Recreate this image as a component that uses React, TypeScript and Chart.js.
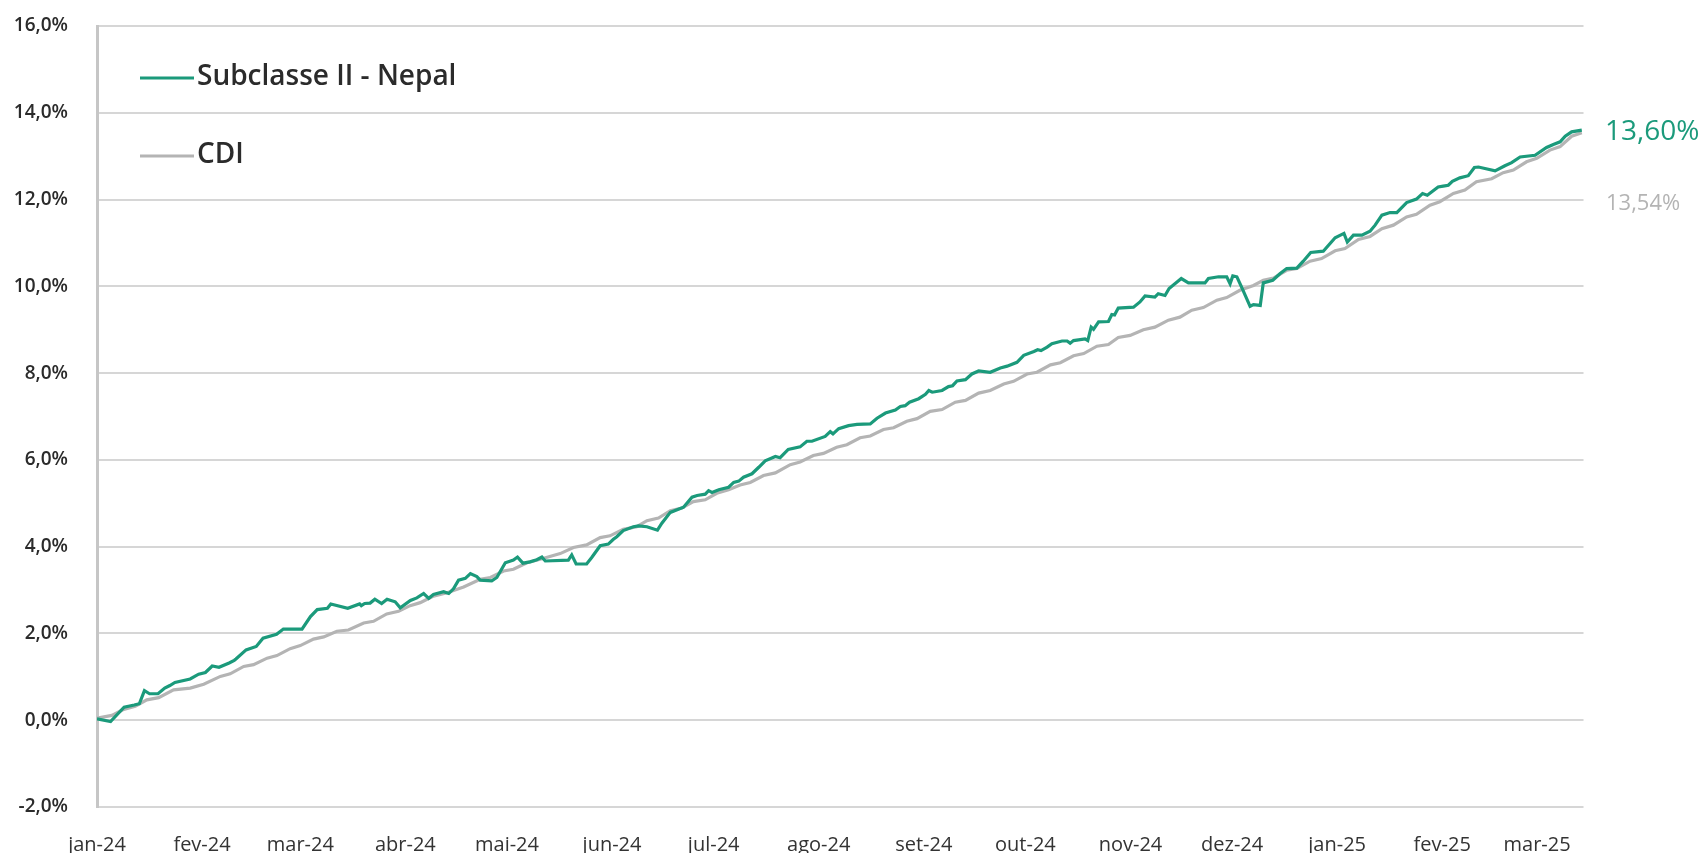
import React, { useEffect, useRef } from "react";
import { Chart, registerables } from "chart.js";

Chart.register(...registerables);

// Days since 2024-01-01 at which the month tick labels sit
const monthDays = [0, 31, 60, 91, 121, 152, 182, 213, 244, 274, 305, 335, 366, 397, 425];
const monthLabels = [
  "jan-24", "fev-24", "mar-24", "abr-24", "mai-24", "jun-24", "jul-24",
  "ago-24", "set-24", "out-24", "nov-24", "dez-24", "jan-25", "fev-25", "mar-25",
];

const seriesNames = ["Subclasse II - Nepal", "CDI"];
const endLabels = ["13,60%", "13,54%"];

// Subclasse II - Nepal (accumulated %, day offsets since 2024-01-01)
const nepalDays = [
  0, 4, 8, 11, 12.5, 14, 15.5, 18, 20, 21.5, 23, 27.5, 30, 32, 34, 36, 39, 40.5, 41, 44,
  47, 49, 53, 55, 60.5, 63, 65, 68, 69, 74, 77.5, 78, 79, 80.6, 82, 84, 85.6, 88, 89.5, 92.5,
  94.4, 96.4, 97.9, 99.3, 102.3, 103.8, 105.2, 106.7, 108.7, 110.2, 112.1, 113.1, 116.5, 118, 120.5, 122.9, 124.1, 125.7, 127.8, 129.8,
  131.3, 132.3, 139.1, 140.1, 141.4, 144.5, 146, 148.5, 150.9, 152.4, 153.4, 155.3, 158.3, 159.8, 162.3, 165.4, 166.7, 169.2, 173.1, 175.6,
  177.1, 179.5, 180.5, 181.5, 183.5, 186.4, 187.9, 189.4, 190.8, 193.3, 195.3, 197.2, 200.2, 201.6, 204, 207.5, 209.5, 211, 214.9, 216.4,
  217.2, 218.9, 221.8, 224.3, 228.2, 230.2, 232.7, 235.6, 237.1, 238.5, 239.8, 242.5, 244.5, 245.5, 246.5, 249.4, 251.3, 252.5, 253.8, 256.3,
  258.2, 260.2, 263.6, 266.6, 268.6, 271.5, 273.5, 276.5, 277.6, 278.6, 280.4, 281.8, 284.8, 286.3, 287.2, 288.2, 291.6, 292.4, 293.4, 294.1,
  295.6, 298.5, 299.5, 300.3, 301.4, 305.9, 307.8, 309.3, 312.2, 313.2, 315.2, 316.4, 320, 322.1, 327, 328, 331, 333.4, 334.4, 335.2,
  336.4, 337.8, 340.3, 341.3, 343.3, 344.2, 347, 349.1, 351.1, 354.1, 356, 358.2, 361.9, 365.4, 368, 369, 370.8, 373.3, 375.7, 377.2,
  379.2, 381.6, 383.6, 386.5, 389.4, 391.2, 392.6, 395.8, 397.3, 398.8, 400, 402.2, 404.7, 406.5, 407.7, 412.6, 415.5, 417.5, 420, 424.4,
  427.8, 429.8, 431.8, 433.3, 435.2, 438.2,
];
const nepalValues = [
  0.03, -0.03, 0.30, 0.35, 0.38, 0.68, 0.61, 0.61, 0.74, 0.80, 0.87, 0.95, 1.06, 1.10, 1.25, 1.22, 1.32, 1.38, 1.41, 1.62,
  1.70, 1.89, 1.98, 2.10, 2.10, 2.39, 2.55, 2.58, 2.68, 2.58, 2.68, 2.64, 2.69, 2.70, 2.79, 2.69, 2.79, 2.73, 2.59, 2.76,
  2.82, 2.92, 2.81, 2.90, 2.96, 2.92, 3.03, 3.23, 3.27, 3.38, 3.31, 3.23, 3.21, 3.29, 3.63, 3.69, 3.76, 3.62, 3.65, 3.70,
  3.76, 3.67, 3.69, 3.81, 3.60, 3.60, 3.75, 4.02, 4.06, 4.17, 4.23, 4.37, 4.46, 4.48, 4.46, 4.38, 4.54, 4.79, 4.91, 5.14,
  5.18, 5.21, 5.29, 5.25, 5.31, 5.37, 5.48, 5.51, 5.60, 5.68, 5.83, 5.98, 6.08, 6.05, 6.24, 6.30, 6.43, 6.43, 6.54, 6.65,
  6.60, 6.72, 6.79, 6.82, 6.83, 6.96, 7.08, 7.15, 7.23, 7.25, 7.33, 7.41, 7.51, 7.60, 7.56, 7.60, 7.69, 7.71, 7.82, 7.85,
  7.98, 8.05, 8.02, 8.12, 8.16, 8.25, 8.41, 8.50, 8.54, 8.52, 8.60, 8.68, 8.74, 8.74, 8.69, 8.75, 8.79, 8.75, 9.06, 9.01,
  9.18, 9.19, 9.35, 9.34, 9.50, 9.52, 9.64, 9.78, 9.75, 9.83, 9.79, 9.95, 10.18, 10.08, 10.08, 10.18, 10.22, 10.22, 10.06, 10.24,
  10.22, 9.98, 9.54, 9.58, 9.56, 10.08, 10.14, 10.29, 10.41, 10.42, 10.58, 10.78, 10.81, 11.12, 11.22, 11.02, 11.18, 11.18, 11.27, 11.41,
  11.64, 11.70, 11.70, 11.93, 12.01, 12.14, 12.10, 12.29, 12.31, 12.33, 12.42, 12.50, 12.55, 12.74, 12.75, 12.66, 12.78, 12.85, 12.98, 13.02,
  13.20, 13.27, 13.33, 13.46, 13.56, 13.60,
];

// CDI (accumulated %, day offsets since 2024-01-01)
const cdiDays = [
  0, 4.4, 7.9, 11.3, 14.7, 18.2, 22.6, 27.5, 31.5, 36.4, 39.3, 43.3, 46.2, 50.2, 53.1, 57, 60, 63.9, 66.9, 70.8,
  74.2, 78.7, 81.6, 85.5, 89, 92.4, 95.4, 99.3, 103.3, 108.2, 113.1, 116.1, 120, 122.9, 126.9, 130.8, 136.7, 140.6, 144.5, 148.5,
  151.4, 155.3, 159.3, 162.3, 165.7, 169.2, 172.6, 176, 179.5, 182.9, 186.4, 189.8, 192.8, 196.7, 200.2, 204.6, 207.5, 211.4, 214.4, 218.3,
  221.3, 225.2, 228.2, 232.1, 235.1, 239, 242, 245.9, 249.4, 253.3, 256.3, 260.2, 263.6, 267.6, 270.5, 274.5, 277.4, 281.4, 284.3, 288.2,
  291.2, 295.1, 298.5, 301.4, 304.9, 308.8, 312.2, 316.2, 319.6, 323.1, 326.5, 330.5, 333.4, 337.3, 341.3, 344.2, 347.2, 351.1, 354.1, 358,
  361.4, 365.4, 368.3, 372.3, 375.7, 379.2, 382.6, 386.5, 389.4, 393.4, 396.3, 400.3, 403.7, 407.1, 411.6, 415, 418, 421.9, 424.9, 428.8,
  431.8, 435.2, 438.2,
];
const cdiValues = [
  0.05, 0.11, 0.25, 0.32, 0.47, 0.52, 0.70, 0.74, 0.83, 1.01, 1.07, 1.24, 1.28, 1.43, 1.49, 1.65, 1.72, 1.87, 1.92, 2.05,
  2.08, 2.24, 2.28, 2.45, 2.51, 2.64, 2.71, 2.86, 2.94, 3.07, 3.25, 3.29, 3.44, 3.48, 3.63, 3.71, 3.84, 3.98, 4.04, 4.21,
  4.25, 4.40, 4.46, 4.60, 4.66, 4.83, 4.89, 5.04, 5.08, 5.23, 5.31, 5.42, 5.48, 5.64, 5.70, 5.89, 5.95, 6.10, 6.15, 6.29,
  6.35, 6.51, 6.55, 6.70, 6.74, 6.89, 6.95, 7.12, 7.16, 7.33, 7.37, 7.54, 7.60, 7.75, 7.81, 7.98, 8.02, 8.19, 8.24, 8.40,
  8.45, 8.62, 8.66, 8.82, 8.87, 9.00, 9.06, 9.22, 9.29, 9.45, 9.51, 9.68, 9.74, 9.91, 10.02, 10.14, 10.19, 10.37, 10.41, 10.58,
  10.64, 10.82, 10.87, 11.08, 11.15, 11.33, 11.41, 11.60, 11.66, 11.87, 11.95, 12.14, 12.22, 12.41, 12.48, 12.62, 12.68, 12.87, 12.95, 13.14,
  13.22, 13.46, 13.54,
];

const GREEN = "#1b9a7b";
const GRAY = "#b4b4b4";
const FONT = "'Open Sans', Roboto, sans-serif";

const overlayPlugin = {
  id: "overlay",
  afterDraw(chart: any) {
    const ctx = chart.ctx;
    const colors = [GREEN, GRAY];
    ctx.save();
    // Legend
    const legendY = [78, 156];
    seriesNames.forEach((name, i) => {
      ctx.strokeStyle = colors[i];
      ctx.lineWidth = 3;
      ctx.beginPath();
      ctx.moveTo(140, legendY[i]);
      ctx.lineTo(194, legendY[i]);
      ctx.stroke();
      ctx.fillStyle = "#2b2b2b";
      ctx.font = `600 28px ${FONT}`;
      ctx.textBaseline = "middle";
      ctx.textAlign = "left";
      ctx.fillText(name, 197, legendY[i] - 1);
    });
    // End labels
    const y = chart.scales.y;
    const lastY = y.getPixelForValue(nepalValues[nepalValues.length - 1]);
    ctx.textBaseline = "middle";
    ctx.textAlign = "left";
    ctx.fillStyle = GREEN;
    ctx.font = `400 28px ${FONT}`;
    ctx.fillText(endLabels[0], 1605, lastY + 2);
    ctx.fillStyle = GRAY;
    ctx.font = `400 22px ${FONT}`;
    ctx.fillText(endLabels[1], 1606, lastY + 74);
    ctx.restore();
  },
};

export default function App() {
  const ref = useRef<HTMLCanvasElement | null>(null);

  useEffect(() => {
    if (!ref.current) return;
    const chart = new Chart(ref.current, {
      type: "line",
      data: {
        datasets: [
          {
            label: seriesNames[0],
            data: nepalDays.map((d, i) => ({ x: d, y: nepalValues[i] })),
            borderColor: GREEN,
            borderWidth: 3.2,
            pointRadius: 0,
            tension: 0,
          },
          {
            label: seriesNames[1],
            data: cdiDays.map((d, i) => ({ x: d, y: cdiValues[i] })),
            borderColor: GRAY,
            borderWidth: 3.2,
            pointRadius: 0,
            tension: 0,
          },
        ],
      },
      options: {
        animation: false,
        responsive: false,
        devicePixelRatio: 1,
        layout: { padding: { left: 0, top: 26, right: 119.5, bottom: 0 } },
        plugins: { legend: { display: false }, tooltip: { enabled: false } },
        scales: {
          x: {
            type: "linear",
            min: 0,
            max: 438.7,
            afterBuildTicks: (scale: any) => {
              scale.ticks = monthDays.map((v) => ({ value: v }));
            },
            afterFit: (scale: any) => {
              scale.height = 46;
            },
            grid: { display: false, drawTicks: false },
            border: { display: false },
            ticks: {
              autoSkip: false,
              maxRotation: 0,
              padding: 26,
              color: "#333333",
              font: { family: FONT, size: 20, weight: "400" },
              callback: (_v: any, i: number) => monthLabels[i],
            },
          },
          y: {
            min: -2,
            max: 16,
            afterFit: (scale: any) => {
              scale.width = 97;
              scale.paddingTop = 12;
              scale.paddingBottom = 12;
            },
            grid: { color: "#d6d6d6", lineWidth: 2, drawTicks: false },
            border: { color: "#c6c6c6", width: 3 },
            ticks: {
              stepSize: 2,
              padding: 29,
              color: "#2b2b2b",
              font: { family: FONT, size: 19, weight: "600" },
              callback: (v: any) => Number(v).toFixed(1).replace(".", ",") + "%",
            },
          },
        },
      },
      plugins: [overlayPlugin],
    });
    return () => chart.destroy();
  }, []);

  return (
    <div style={{ position: "fixed", left: 0, top: 0, width: 1703, height: 853, background: "#ffffff" }}>
      <canvas ref={ref} width={1703} height={853} style={{ width: 1703, height: 853, display: "block" }} />
    </div>
  );
}
